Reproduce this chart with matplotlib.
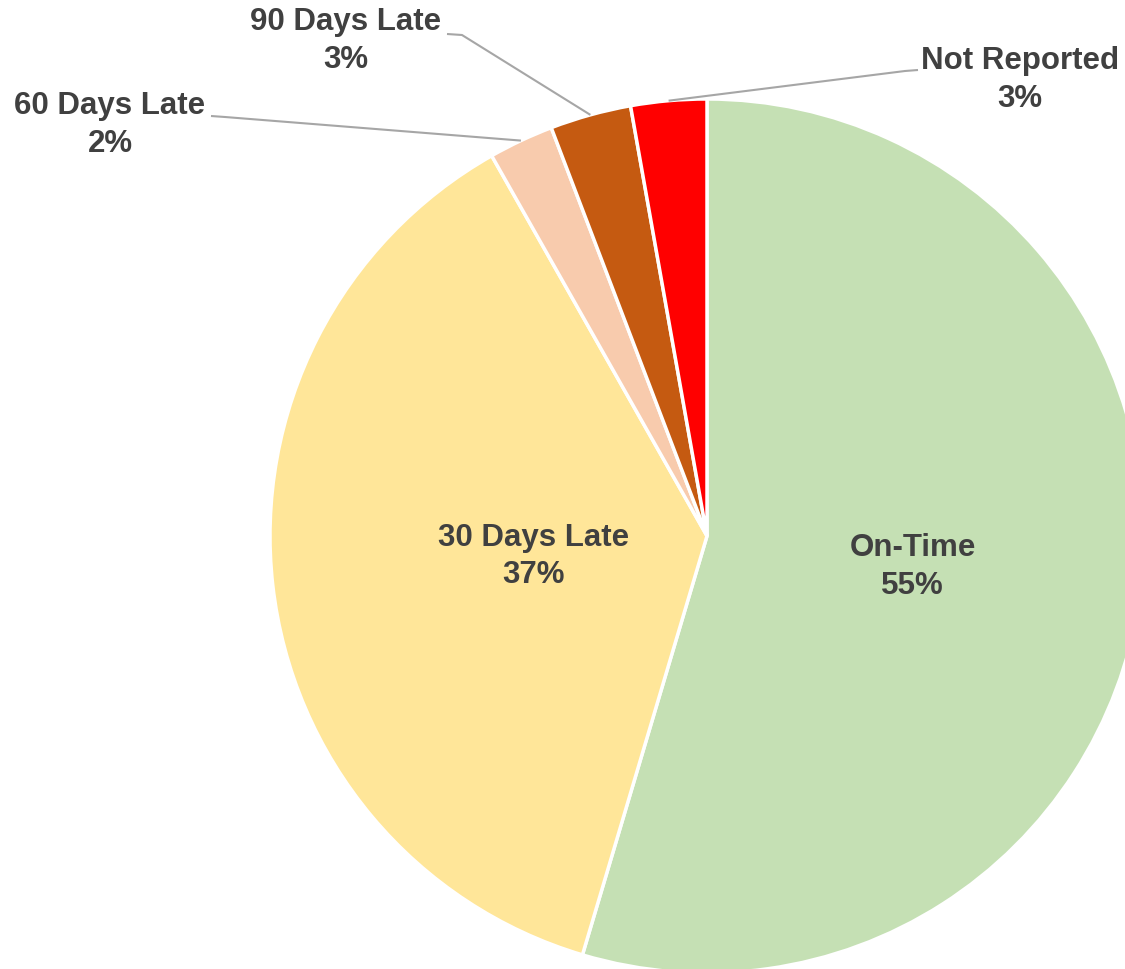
import matplotlib.pyplot as plt
import numpy as np

# payment status shares (percent)
categories = ['On-Time', '30 Days Late', '60 Days Late', '90 Days Late', 'Not Reported']
shares = [54.6, 37.2, 2.4, 3.0, 2.8]
colors = ['#C5E0B4', '#FFE699', '#F8CBAD', '#C55A11', '#FF0000']

W, H = 1125, 970
CX, CY, R = 707, 537, 437


def px(x, y):
    # pixel position -> data coords (pie radius = 1)
    return (x - CX) / R, (CY - y) / R


fig = plt.figure(figsize=(W / 100, H / 100), dpi=100)
ax = fig.add_axes([0, 0, 1, 1])
wedges, _ = ax.pie(shares, colors=colors, startangle=90, counterclock=False,
                   wedgeprops=dict(edgecolor='white', linewidth=2.5))
ax.set_aspect('auto')
ax.set_xlim(-CX / R, (W - CX) / R)
ax.set_ylim(-(H - CY) / R, CY / R)
ax.axis('off')

font = dict(family=['Liberation Sans', 'DejaVu Sans'], weight='bold',
            color='#404040', fontsize=22.5, ha='center', va='center',
            linespacing=1.32)

# inside labels: radius along mid angle
inner = {'On-Time': 0.476, '30 Days Late': 0.40}
# outside labels: text centre, leader start, leader bend (pixels)
outer = {
    '60 Days Late': ((110, 125), (211, 117), (225, 118)),
    '90 Days Late': ((346, 41), (447, 35), (462, 36)),
    'Not Reported': ((1020, 80), (918, 71), (905, 72)),
}

for w, cat, val in zip(wedges, categories, shares):
    mid = np.deg2rad((w.theta1 + w.theta2) / 2)
    text = f'{cat}\n{val:.0f}%'
    if cat in inner:
        r = inner[cat]
        ax.text(r * np.cos(mid), r * np.sin(mid), text, **font)
    else:
        centre, start, bend = outer[cat]
        ax.text(*px(*centre), text, **font)
        xs = [px(*start)[0], px(*bend)[0], np.cos(mid)]
        ys = [px(*start)[1], px(*bend)[1], np.sin(mid)]
        ax.plot(xs, ys, color='#A6A6A6', lw=1.5, solid_capstyle='butt')

fig.savefig('out.png', dpi=100, facecolor='white')
